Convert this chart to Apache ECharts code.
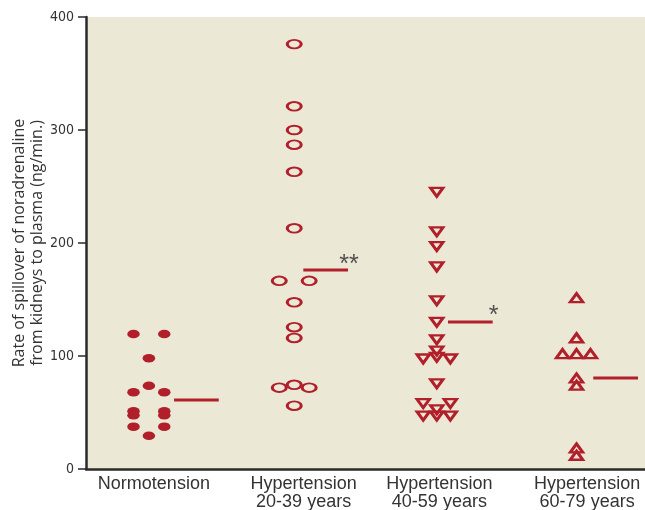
<!DOCTYPE html>
<html>
<head>
<meta charset="utf-8">
<script src="https://cdn.jsdelivr.net/npm/echarts@6/dist/echarts.min.js"></script>
<style>
  html, body { margin: 0; padding: 0; background: #ffffff; }
  #chart { width: 645px; height: 510px; }
</style>
</head>
<body>
<div id="chart"></div>
<script>
// Group labels along the x axis
const categories = [
  'Normotension',
  'Hypertension\n20-39 years',
  'Hypertension\n40-59 years',
  'Hypertension\n60-79 years'
];

// Individual spillover rates (ng/min) and their side-by-side lane (-1 left, 0 middle, 1 right)
const normoValues = [119.5, 119.5, 98, 73.7, 68, 68, 51, 51, 47.5, 47.5, 37.5, 37.5, 29.5];
const normoLanes  = [-1, 1, 0, 0, -1, 1, -1, 1, -1, 1, -1, 1, 0];

const hyper2039Values = [376, 321, 300, 287, 263, 213, 166.5, 166.5, 147.5, 125.5, 116, 72, 74.5, 72, 56];
const hyper2039Lanes  = [0, 0, 0, 0, 0, 0, -1, 1, 0, 0, 0, -1, 0, 1, 0];

const hyper4059Values = [245, 210, 197, 179, 149, 130, 114.5, 104.5, 97.5, 99, 97.5, 75.5, 58, 58, 52.5, 47, 47, 47];
const hyper4059Lanes  = [0, 0, 0, 0, 0, 0, 0, 0, -1, 0, 1, 0, -1, 1, 0, -1, 0, 1];

const hyper6079Values = [151.5, 116, 102, 102, 102, 80.5, 74, 18.5, 12];
const hyper6079Lanes  = [0, 0, -1, 0, 1, 0, 0, 0, 0];

// Group means and significance markers
const groupMeans = [61, 176, 130, 80.5];
const significance = ['', '**', '*', ''];

// Y axis ticks
const yTicks = [0, 100, 200, 300, 400];

// ---- layout helpers (positions on the hidden numeric x axis) ----
const RED = '#b01f2a';
const BG = '#ece8d6';
const INK = '#2a2a2a';
const groupShift = [-0.05, -0.01, 0.01, 0.01];
const laneStep = [0.11, 0.107, 0.097, 0.1];
const meanStart = [0.13, 0.055, 0.09, 0.13];
const meanLength = 0.32;

function points(g, values, lanes) {
  return values.map((v, i) => [g + groupShift[g] + lanes[i] * laneStep[g], v]);
}

const downTriangle = 'path://M0,0 L20,0 L10,14 Z';
const upTriangle = 'path://M10,0 L20,14 L0,14 Z';

const groups = [
  { values: normoValues, lanes: normoLanes,
    symbol: 'circle', size: [12.5, 8.5],
    style: { color: RED, opacity: 1 } },
  { values: hyper2039Values, lanes: hyper2039Lanes,
    symbol: 'circle', size: [14, 8.6],
    style: { color: 'transparent', borderColor: RED, borderWidth: 2.4, opacity: 1 } },
  { values: hyper4059Values, lanes: hyper4059Lanes,
    symbol: downTriangle, size: [12.5, 8.6],
    style: { color: 'transparent', borderColor: RED, borderWidth: 2.8, opacity: 1 } },
  { values: hyper6079Values, lanes: hyper6079Lanes,
    symbol: upTriangle, size: [12.5, 8.6],
    style: { color: 'transparent', borderColor: RED, borderWidth: 2.8, opacity: 1 } }
];

const series = [];

groups.forEach((grp, g) => {
  series.push({
    type: 'scatter',
    xAxisIndex: 1,
    data: points(g, grp.values, grp.lanes),
    symbol: grp.symbol,
    symbolSize: grp.size,
    itemStyle: grp.style,
    silent: true,
    z: 3
  });
});

// Mean bars
groupMeans.forEach((m, g) => {
  const x0 = g + meanStart[g];
  series.push({
    type: 'line',
    xAxisIndex: 1,
    data: [[x0, m], [x0 + meanLength, m]],
    symbol: 'none',
    lineStyle: { color: RED, width: 3 },
    silent: true,
    z: 2
  });
});

// Significance asterisks at the right end of the mean bars
series.push({
  type: 'scatter',
  xAxisIndex: 1,
  symbolSize: 0,
  silent: true,
  data: groupMeans.map((m, g) => ({
    value: [g + meanStart[g] + meanLength, m],
    label: { show: significance[g] !== '', formatter: significance[g] }
  })),
  label: {
    position: 'top',
    offset: [1, 12],
    color: INK,
    fontSize: 25,
    fontFamily: 'Liberation Sans, Arial, sans-serif'
  }
});

// Per-label horizontal nudges for the group names
const labelPads = [[0, 4, 0, 0], [0, 0, 0, 16], [0, 0, 0, 8], [0, 0, 0, 24]];
const labelRich = {};
labelPads.forEach((p, i) => {
  labelRich['g' + i] = {
    fontSize: 18,
    lineHeight: 18,
    color: '#333',
    fontFamily: 'Liberation Sans, Arial, sans-serif',
    padding: p
  };
});

const option = {
  backgroundColor: '#ffffff',
  animation: false,
  grid: {
    left: 86, right: 0, top: 17, bottom: 41,
    outerBoundsMode: 'none',
    containLabel: false,
    show: true, backgroundColor: BG, borderWidth: 0
  },
  xAxis: [
    {
      type: 'category',
      data: categories,
      boundaryGap: true,
      axisLine: { show: true, onZero: false, lineStyle: { color: INK, width: 2.5 } },
      axisTick: { show: false },
      splitLine: { show: false },
      axisLabel: {
        margin: 6,
        interval: 0,
        formatter: (v, i) => `{g${i}|${v}}`,
        rich: labelRich
      }
    },
    {
      type: 'value',
      min: -0.5,
      max: 3.5,
      show: false
    }
  ],
  yAxis: {
    type: 'value',
    min: yTicks[0],
    max: yTicks[yTicks.length - 1],
    interval: yTicks[1] - yTicks[0],
    axisLine: { show: true, onZero: false, lineStyle: { color: INK, width: 2.5 } },
    axisTick: { show: true, length: 8, lineStyle: { color: INK, width: 1.5 } },
    splitLine: { show: false },
    axisLabel: {
      margin: 12,
      color: '#333',
      fontSize: 14,
      fontFamily: 'Liberation Sans Narrow, DejaVu Sans Condensed, sans-serif'
    },
    name: 'Rate of spillover of noradrenaline\nfrom kidneys to plasma (ng/min.)',
    nameLocation: 'middle',
    nameRotate: 90,
    nameGap: 40,
    nameMoveOverlap: false,
    nameTextStyle: {
      fontSize: 16,
      lineHeight: 18,
      color: '#333',
      fontFamily: 'Open Sans, Liberation Sans, sans-serif'
    }
  },
  series: series
};

const chart = echarts.init(document.getElementById('chart'), null, { renderer: 'canvas' });
chart.setOption(option);
</script>
</body>
</html>
